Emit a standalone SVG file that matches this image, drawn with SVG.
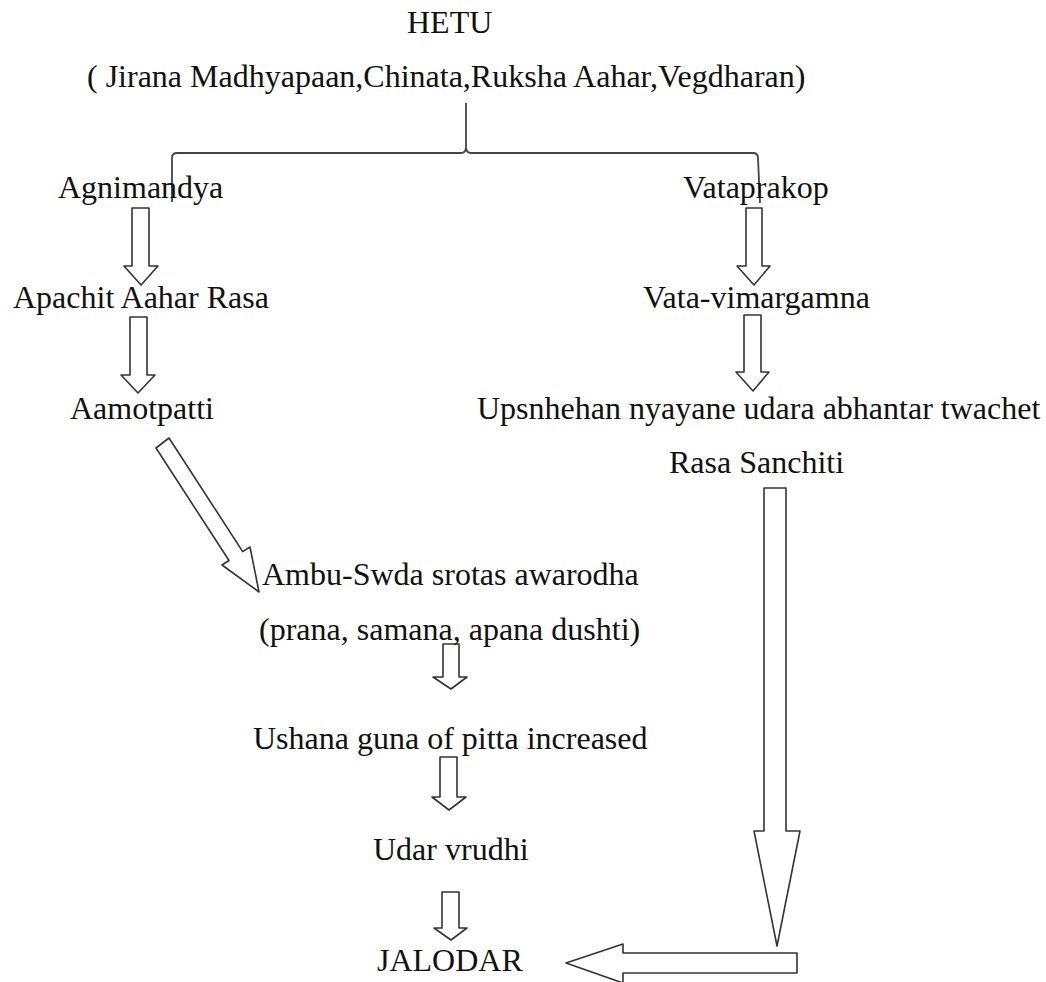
<svg xmlns="http://www.w3.org/2000/svg" width="1046" height="982" viewBox="0 0 1046 982">
<style>
.t{font-family:'Liberation Serif','Times New Roman',serif;font-size:32px;fill:#111}
.ba{fill:#fff;stroke:#333;stroke-width:1.6;stroke-linejoin:round}
.br{fill:none;stroke:#444;stroke-width:1.8}
</style>
<rect width="1046" height="982" fill="#fff"/>
<g id="connectors">
<path class="br" d="M172,202 L172,158 Q172,153 177,153 L461,153 Q466,153 466,147 L466,103 M466,147 Q466,153 471,153 L753,153 Q758,153 758,158 L760,203"/>
<polygon class="ba" points="132,208 149,208 149,266 158,266 141,285 124,266 132,266"/>
<polygon class="ba" points="746,208 762,208 762,266 770,266 754,285 737,266 746,266"/>
<polygon class="ba" points="130,317 147,317 147,375 155,375 138,393 121,375 130,375"/>
<polygon class="ba" points="744,315 761,315 761,372 769,372 753,391 736,372 744,372"/>
<polygon class="ba" points="156,448 169,438 242.7,551.6 250,547 259,592 222,565 229,560.5"/>
<polygon class="ba" points="443,644 459,644 459,677 467,677 451,689 433,677 443,677"/>
<polygon class="ba" points="440,757 457,757 457,797 466,797 449,810 432,797 440,797"/>
<polygon class="ba" points="442,892 459,892 459,928 467,928 451,940 434,928 442,928"/>
<polygon class="ba" points="764,488 786,488 786,831 800,831 777,946 754,831 764,831"/>
<polygon class="ba" points="797,953 797,973 623,973 623,983 566,963 623,944 623,953"/>
</g>
<g id="hetu"><text class="t" x="407" y="33">HETU</text></g>
<g id="hetu-list"><text class="t" x="87" y="87">( Jirana Madhyapaan,Chinata,Ruksha Aahar,Vegdharan)</text></g>
<g id="agnimandya"><text class="t" x="58" y="198">Agnimandya</text></g>
<g id="vataprakop"><text class="t" x="683" y="198">Vataprakop</text></g>
<g id="apachit"><text class="t" x="13" y="308">Apachit Aahar Rasa</text></g>
<g id="vata-vimargamna"><text class="t" x="643" y="308">Vata-vimargamna</text></g>
<g id="aamotpatti"><text class="t" x="70" y="419">Aamotpatti</text></g>
<g id="upsnhehan"><text class="t" x="477" y="419">Upsnhehan nyayane udara abhantar twachet</text></g>
<g id="rasa-sanchiti"><text class="t" x="669" y="473">Rasa Sanchiti</text></g>
<g id="ambu-swda"><text class="t" x="262" y="585">Ambu-Swda srotas awarodha</text></g>
<g id="prana"><text class="t" x="259" y="640">(prana, samana, apana dushti)</text></g>
<g id="ushana"><text class="t" x="253" y="749">Ushana guna of pitta increased</text></g>
<g id="udar-vrudhi"><text class="t" x="373" y="860">Udar vrudhi</text></g>
<g id="jalodar"><text class="t" x="377" y="971">JALODAR</text></g>
</svg>
